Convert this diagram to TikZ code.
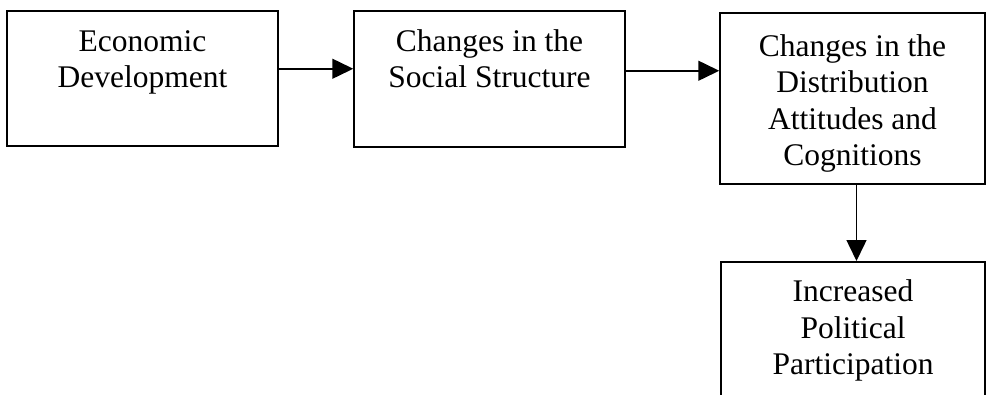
\documentclass[tikz,border=0pt]{standalone}
\usepackage{fontspec}
\setmainfont{Liberation Serif}
\usepackage{tikz}
\usetikzlibrary{arrows.meta}
\usetikzlibrary{calc}
\tikzstyle{stagebox}=[draw,line width=1.5pt,inner sep=0pt,align=center,anchor=north,font=\fontsize{31.5}{36.5}\selectfont]
\tikzstyle{edge} = [draw,line width=1.5pt,-{Triangle[length=21pt,width=20pt]}]

\begin{document}
\begin{tikzpicture}[x=1pt,y=-1pt]
    \useasboundingbox (0,0) rectangle (986,394);
    % First we draw the boxes
    \foreach \pos/\name/\bw/\bh/\bd/\label in {{(142.5,10)/econ/271/77/58/{Economic\\Development}},
    {(489.5,10)/social/271/77/59/{Changes in the\\Social Structure}},
    {(852.5,12)/attit/265/153/18/{Changes in the\\Distribution\\Attitudes and\\Cognitions}},
    {(853,261)/partic/264/113/70/{Increased\\Political\\Participation}}}
        \node[stagebox, minimum width=\bw pt, text height=\bh pt, text depth=\bd pt] (\name) at \pos {\label};

    % Connect boxes with arrows
    \path[edge] ([yshift=9.5pt]econ.east) -- ([yshift=9.5pt]econ.east -| social.west);
    \path[edge] ([yshift=8pt]social.east) -- ([yshift=8pt]social.east -| attit.west);
    \path[edge] ([xshift=4pt]attit.south) -- ([xshift=4pt]attit.south |- partic.north);
\end{tikzpicture}
\end{document}
